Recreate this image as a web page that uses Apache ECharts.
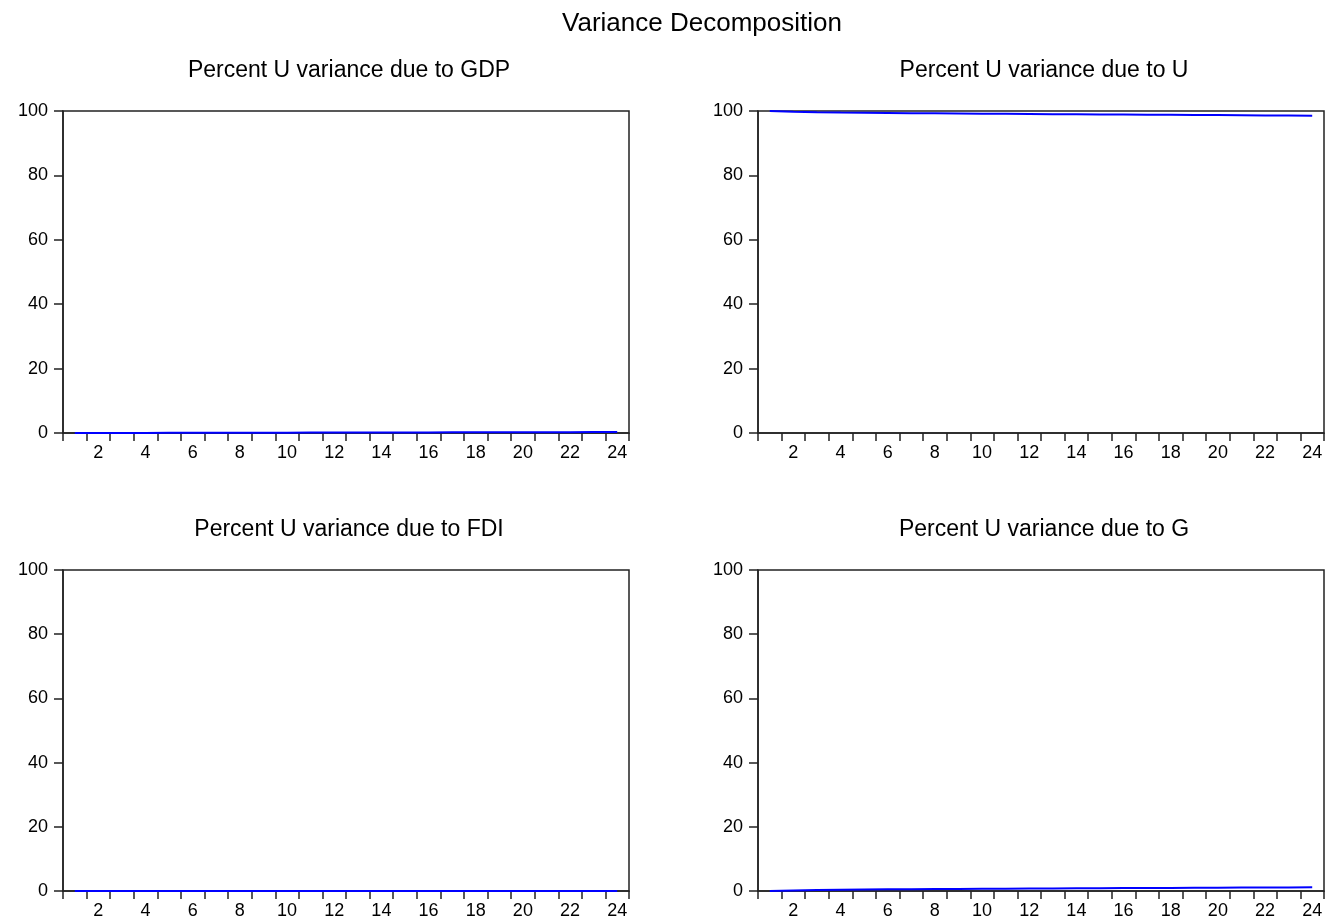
<!DOCTYPE html>
<html>
<head>
<meta charset="utf-8">
<title>Variance Decomposition</title>
<script src="https://cdn.jsdelivr.net/npm/echarts@6/dist/echarts.min.js"></script>
<style>
  html, body { margin: 0; padding: 0; background: #fff; }
  #chart { width: 1336px; height: 920px; }
</style>
</head>
<body>
<div id="chart"></div>
<script>
// periods 1..24
const periods = Array.from({ length: 24 }, (_, i) => String(i + 1))

// values (percent of U forecast error variance)
const dueToGDP = [0, 0.01, 0.02, 0.03, 0.05, 0.06, 0.07, 0.08, 0.1, 0.11, 0.12, 0.14,
  0.15, 0.16, 0.18, 0.19, 0.2, 0.22, 0.23, 0.24, 0.26, 0.27, 0.28, 0.3]
const dueToU = [100, 99.8, 99.65, 99.55, 99.47, 99.4, 99.34, 99.28, 99.22, 99.17, 99.12, 99.07,
  99.02, 98.97, 98.93, 98.88, 98.84, 98.8, 98.76, 98.72, 98.68, 98.64, 98.6, 98.56]
const dueToFDI = [0, 0.01, 0.01, 0.02, 0.02, 0.02, 0.03, 0.03, 0.03, 0.03, 0.03, 0.03,
  0.03, 0.03, 0.03, 0.03, 0.03, 0.03, 0.03, 0.03, 0.03, 0.03, 0.03, 0.03]
const dueToG = [0, 0.15, 0.28, 0.38, 0.45, 0.51, 0.56, 0.61, 0.65, 0.69, 0.73, 0.77,
  0.81, 0.84, 0.88, 0.91, 0.94, 0.97, 1.0, 1.03, 1.06, 1.09, 1.12, 1.14]

const panelTitles = [
  'Percent U variance due to GDP',
  'Percent U variance due to U',
  'Percent U variance due to FDI',
  'Percent U variance due to G'
]
const panelData = [dueToGDP, dueToU, dueToFDI, dueToG]

const FONT = '"Liberation Sans", Arial, sans-serif'
const frameColor = '#222'

// panel boxes (pixels)
const boxes = [
  { left: 63, right: 629, top: 111, bottom: 433 },
  { left: 758, right: 1324, top: 111, bottom: 433 },
  { left: 63, right: 629, top: 570, bottom: 893 },
  { left: 758, right: 1324, top: 570, bottom: 893 }
]

const chart = echarts.init(document.getElementById('chart'))

const titles = [{
  text: 'Variance Decomposition',
  left: 697,
  top: 6,
  textAlign: 'center',
  textStyle: { fontFamily: FONT, fontSize: 26, fontWeight: 'normal', color: '#000' }
}]
const grids = []
const xAxes = []
const yAxes = []
const series = []

boxes.forEach((b, i) => {
  titles.push({
    text: panelTitles[i],
    left: (b.left + b.right) / 2 - 2,
    top: b.top - 57,
    textAlign: 'center',
    textStyle: { fontFamily: FONT, fontSize: 23, fontWeight: 'normal', color: '#000' }
  })
  grids.push({
    left: b.left,
    top: b.top,
    width: b.right - b.left,
    height: b.bottom - b.top,
    show: true,
    borderColor: frameColor,
    borderWidth: 1.5,
    backgroundColor: '#fff'
  })
  xAxes.push({
    type: 'category',
    gridIndex: i,
    data: periods,
    boundaryGap: true,
    axisLine: { show: true, onZero: false, lineStyle: { color: frameColor, width: 1.5 } },
    axisTick: { show: true, interval: 0, length: 8, lineStyle: { color: frameColor, width: 1.5 } },
    axisLabel: {
      interval: (idx) => idx % 2 === 1,
      margin: 11,
      color: '#000',
      fontFamily: FONT,
      fontSize: 18
    },
    splitLine: { show: false }
  })
  yAxes.push({
    type: 'value',
    gridIndex: i,
    min: 0,
    max: 100,
    interval: 20,
    axisLine: { show: true, lineStyle: { color: frameColor, width: 1.5 } },
    axisTick: { show: true, length: 9, lineStyle: { color: frameColor, width: 1.5 } },
    axisLabel: { margin: 15, color: '#000', fontFamily: FONT, fontSize: 18 },
    splitLine: { show: false }
  })
  series.push({
    type: 'line',
    xAxisIndex: i,
    yAxisIndex: i,
    data: panelData[i],
    symbol: 'none',
    silent: true,
    z: 3,
    lineStyle: { color: '#0000ff', width: 2 }
  })
})

chart.setOption({
  backgroundColor: '#fff',
  animation: false,
  title: titles,
  grid: grids,
  xAxis: xAxes,
  yAxis: yAxes,
  series: series
})
</script>
</body>
</html>
